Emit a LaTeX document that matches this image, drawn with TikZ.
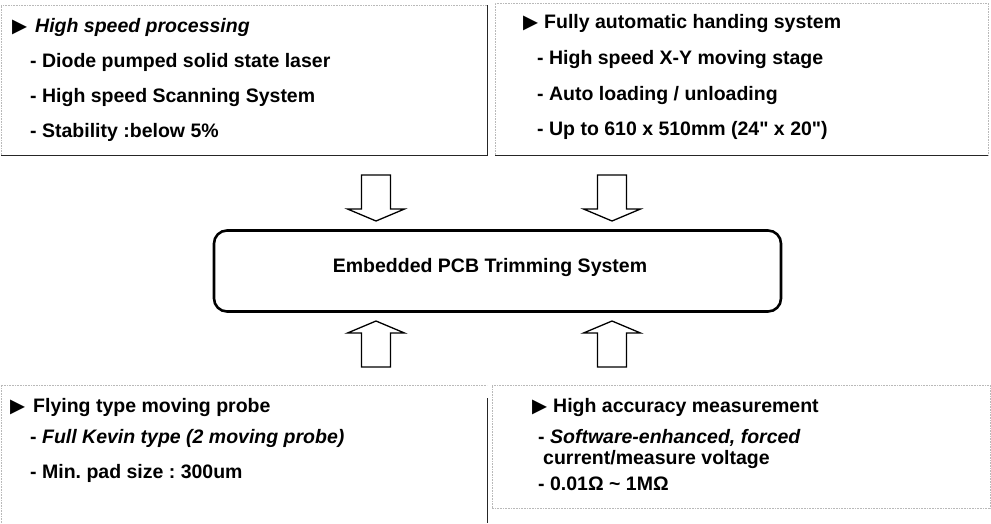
\documentclass[tikz,border=0pt]{standalone}
\usepackage{fontspec}
\newfontfamily\arial{Liberation Sans}
\newfontfamily\trifont{DejaVu Sans}
\begin{document}
\frenchspacing
\begin{tikzpicture}[x=1pt,y=-1pt,
  txt/.style={anchor=base west, inner sep=0pt, font=\arial\bfseries\fontsize{19.5}{23}\selectfont\frenchspacing, text=black},
  faint/.style={draw=gray!55, line width=0.6pt, densely dotted},
  edge/.style={draw=gray!30!black, line width=0.8pt},
  blockarrow/.style={draw=black, line width=1.3pt, fill=white, line join=miter},
  mainbox/.style={draw=black, line width=2.6pt, rounded corners=13pt, minimum width=567pt, minimum height=81pt, inner sep=0pt},
  dnarrow/.pic={\path[blockarrow] (-14.5,0) -- (-14.5,34) -- (-28.5,34) -- (0,46) -- (28.5,34) -- (14.5,34) -- (14.5,0) -- cycle;},
  uparrow/.pic={\path[blockarrow] (-14.5,0) -- (-14.5,-34) -- (-28.5,-34) -- (0,-46) -- (28.5,-34) -- (14.5,-34) -- (14.5,0) -- cycle;}
]
\useasboundingbox (0,0) rectangle (991,523);

% ---- top-left box
\draw[faint] (1,155) -- (1,5) -- (487,5);
\draw[edge] (487,5) -- (487,155) -- (1,155);
% ---- top-right box
\draw[faint] (495,155) -- (495,3) -- (988,3) -- (988,155);
\draw[edge] (495,155) -- (988,155);
% ---- bottom-left box
\draw[faint] (1,523) -- (1,385) -- (487,385);
\draw[edge] (487,398) -- (487,523);
% ---- bottom-right box
\draw[faint] (492,508) -- (492,385) -- (990,385) -- (990,508) -- cycle;

% ---- central box
\node[mainbox] (core) at (497.5,271) {};
\node[txt, anchor=base] (coretxt) at (490,272) {Embedded PCB Trimming System};

% ---- arrows
\coordinate (d1) at (376,175);
\coordinate (d2) at (612,175);
\coordinate (u1) at (376,367);
\coordinate (u2) at (612,367);
\pic at (d1) {dnarrow};
\pic at (d2) {dnarrow};
\pic at (u1) {uparrow};
\pic at (u2) {uparrow};

% ---- top-left texts
\node[txt] (tl0) at (12,32) {{\trifont ▶}\hspace{8pt}\itshape High speed processing};
\node[txt] (tl1) at (30,67) {- Diode pumped solid state laser};
\node[txt] (tl2) at (30,102) {- High speed Scanning System};
\node[txt] (tl3) at (30,137) {- Stability :below 5\%};

% ---- top-right texts
\node[txt] (tr0) at (523,28) {{\trifont ▶}\hspace{6pt}Fully automatic handing system};
\node[txt] (tr1) at (537,64) {- High speed X-Y moving stage};
\node[txt] (tr2) at (537,100) {- Auto loading / unloading};
\node[txt] (tr3) at (537,135) {- Up to 610 x 510mm (24" x 20")};

% ---- bottom-left texts
\node[txt] (bl0) at (10,412) {{\trifont ▶}\hspace{8pt}Flying type moving probe};
\node[txt] (bl1) at (30,443) {- \itshape Full Kevin type (2 moving probe)};
\node[txt] (bl2) at (30,478) {- Min. pad size : 300um};

% ---- bottom-right texts
\node[txt] (br0) at (532,412) {{\trifont ▶}\hspace{6pt}High accuracy measurement};
\node[txt] (br1) at (538,443) {- \itshape Software-enhanced, forced};
\node[txt] (br2) at (543,464) {current/measure voltage};
\node[txt] (br3) at (538,490) {- 0.01Ω \textasciitilde{} 1MΩ};
\end{tikzpicture}
\end{document}
